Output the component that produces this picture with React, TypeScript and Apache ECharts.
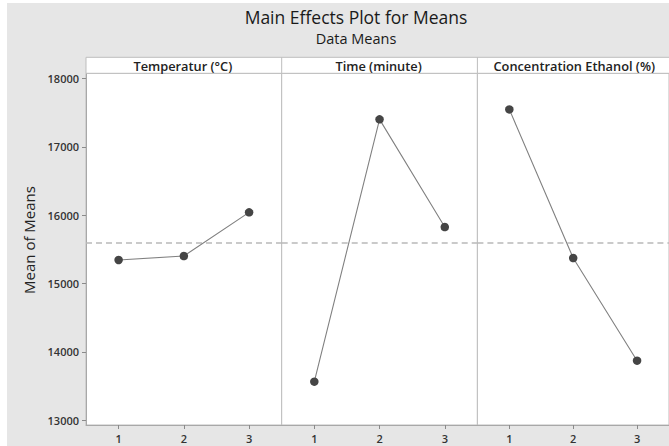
import React, { useEffect, useRef } from "react";
import * as echarts from "echarts";

const levels = ["1", "2", "3"];
const factorNames = ["Temperatur (°C)", "Time (minute)", "Concentration Ethanol (%)"];
const temperatureMeans = [15344, 15402, 16041];
const timeMeans = [13564, 17401, 15826];
const ethanolMeans = [17547, 15373, 13871];
const yTicks = [13000, 14000, 15000, 16000, 17000, 18000];

const FONT = "'Open Sans', 'Noto Sans', sans-serif";

export default function App() {
  const ref = useRef<HTMLDivElement>(null);
  useEffect(() => {
    if (!ref.current) return;
    const chart = echarts.init(ref.current, null, { renderer: "svg" });
    const all = [temperatureMeans, timeMeans, ethanolMeans];
    const flat = all.flat();
    const grandMean = flat.reduce((a, b) => a + b, 0) / flat.length;

    // layout (chart div is placed at page x=7, y=3)
    const OX = 7;
    const OY = 3;
    const left0 = 86 - OX;
    const panelW = 195.7;
    const top = 73.3 - OY;
    const height = 351.7;
    const headerTop = 57.3 - OY;

    const grids = all.map((_, i) => ({
      left: left0 + i * panelW,
      top,
      width: panelW,
      height,
      show: true,
      backgroundColor: "#ffffff",
      borderColor: "#bdbdbd",
      borderWidth: 1,
    }));

    const xAxes = all.map((_, i) => ({
      type: "category",
      gridIndex: i,
      data: levels,
      boundaryGap: true,
      axisLine: { show: true, lineStyle: { color: "#a8a8a8", width: 1 } },
      axisTick: { show: true, alignWithLabel: true, length: 4, lineStyle: { color: "#8a8a8a" } },
      axisLabel: { color: "#333", fontSize: 11, fontWeight: 600, fontFamily: FONT, margin: 8 },
      splitLine: { show: false },
    }));

    const yAxes = all.map((_, i) => ({
      type: "value",
      gridIndex: i,
      min: 12930,
      max: 18075,
      axisLine: { show: i === 0, lineStyle: { color: "#a8a8a8", width: 1 } },
      axisTick: {
        show: i === 0,
        length: 4,
        customValues: yTicks,
        lineStyle: { color: "#8a8a8a" },
      },
      axisLabel: {
        show: i === 0,
        customValues: yTicks,
        formatter: (v: number) => String(v),
        color: "#333",
        fontSize: 11,
        fontWeight: 600,
        fontFamily: FONT,
        margin: 7,
      },
      splitLine: { show: false },
    }));

    const series = all.map((vals, i) => ({
      type: "line",
      xAxisIndex: i,
      yAxisIndex: i,
      data: vals,
      symbol: "circle",
      symbolSize: 8.5,
      itemStyle: { color: "#454545" },
      lineStyle: { color: "#808080", width: 1.1 },
      z: 3,
      markLine: {
        silent: true,
        symbol: "none",
        label: { show: false },
        lineStyle: { type: [6, 4], color: "#b9b9b9", width: 1.5 },
        emphasis: { disabled: true },
        data: [{ yAxis: grandMean }],
        z: 2,
      },
    }));

    const graphics: any[] = [
      {
        type: "rect",
        shape: { x: left0, y: headerTop, width: panelW * 3, height: top - headerTop },
        style: { fill: "#ffffff", stroke: "#bdbdbd", lineWidth: 1 },
        z: 1,
      },
    ];
    for (let i = 1; i < 3; i++) {
      graphics.push({
        type: "line",
        shape: { x1: left0 + i * panelW, y1: headerTop, x2: left0 + i * panelW, y2: top },
        style: { stroke: "#bdbdbd", lineWidth: 1 },
        z: 2,
      });
    }
    factorNames.forEach((name, i) => {
      graphics.push({
        type: "text",
        x: left0 + i * panelW + panelW / 2 - 1,
        y: (headerTop + top) / 2 + 0.5,
        style: {
          text: name,
          fill: "#222",
          font: `600 12.8px ${FONT}`,
          align: "center",
          verticalAlign: "middle",
        },
        z: 3,
      });
    });
    graphics.push({
      type: "text",
      x: 29 - OX,
      y: 240 - OY,
      rotation: Math.PI / 2,
      style: {
        text: "Mean of Means",
        fill: "#222",
        font: `15px ${FONT}`,
        align: "center",
        verticalAlign: "middle",
      },
    });

    chart.setOption({
      animation: false,
      backgroundColor: "#e6e6e6",
      title: [
        {
          text: "Main Effects Plot for Means",
          left: 351 - OX,
          top: 3 - OY,
          textAlign: "center",
          textStyle: { fontFamily: FONT, fontSize: 17.5, fontWeight: "normal", color: "#1a1a1a" },
        },
        {
          text: "Data Means",
          left: 351 - OX,
          top: 26 - OY,
          textAlign: "center",
          textStyle: { fontFamily: FONT, fontSize: 14.5, fontWeight: "normal", color: "#1a1a1a" },
        },
      ],
      grid: grids,
      xAxis: xAxes,
      yAxis: yAxes,
      series,
      graphic: graphics,
    } as any);
    return () => chart.dispose();
  }, []);
  return (
    <div
      ref={ref}
      style={{ position: "fixed", left: 7, top: 3, width: 662, height: 443, background: "#e6e6e6" }}
    />
  );
}
